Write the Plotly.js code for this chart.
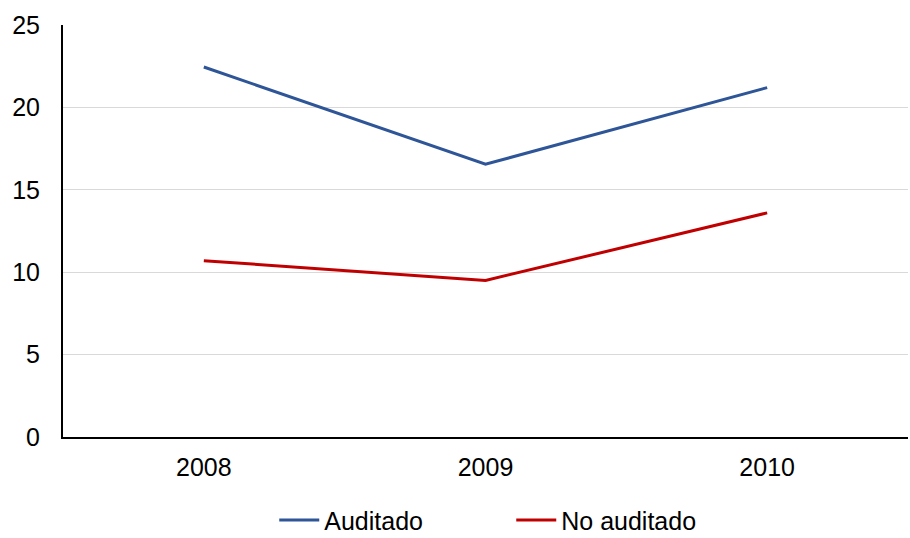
<!DOCTYPE html>
<html><head><meta charset="utf-8">
<script src="https://cdn.plot.ly/plotly-3.0.1.min.js"></script>
<style>body{margin:0;background:#fff}#c{width:910px;height:538px}</style>
</head><body><div id="c"></div>
<script>
const years = ['2008', '2009', '2010'];
const auditado = [22.45, 16.55, 21.2];
const noAuditado = [10.7, 9.5, 13.6];
const yTicks = [0, 5, 10, 15, 20, 25];

const traces = [
  {x: years, y: auditado, name: 'Auditado', type: 'scatter', mode: 'lines',
   line: {color: '#2E5597', width: 3}},
  {x: years, y: noAuditado, name: 'No auditado', type: 'scatter', mode: 'lines',
   line: {color: '#C00000', width: 3}}
];
const layout = {
  width: 910, height: 538,
  margin: {l: 63, r: 2, t: 25, b: 101},
  paper_bgcolor: '#fff', plot_bgcolor: '#fff',
  font: {family: 'Liberation Sans, Arial, sans-serif', size: 25, color: '#000'},
  xaxis: {type: 'category', range: [-0.5, 2.5], showgrid: false, zeroline: false, automargin: false,
    showline: true, linecolor: '#000', linewidth: 2, ticks: 'outside', ticklen: 7, tickcolor: 'rgba(0,0,0,0)',
    tickfont: {size: 25}},
  yaxis: {range: [0, 25], tickvals: yTicks, showgrid: true, gridcolor: '#d9d9d9', gridwidth: 1, automargin: false,
    zeroline: false, showline: true, linecolor: '#000', linewidth: 2,
    ticks: 'outside', ticklen: 16, tickcolor: 'rgba(0,0,0,0)', tickfont: {size: 25}},
  showlegend: true,
  legend: {orientation: 'h', x: 0.25, xanchor: 'left', yref: 'container', y: 0.033, yanchor: 'middle',
    font: {size: 25}, itemwidth: 40, entrywidth: 182, tracegroupgap: 0}
};
Plotly.newPlot('c', traces, layout, {displayModeBar: false, staticPlot: true});
</script></body></html>
